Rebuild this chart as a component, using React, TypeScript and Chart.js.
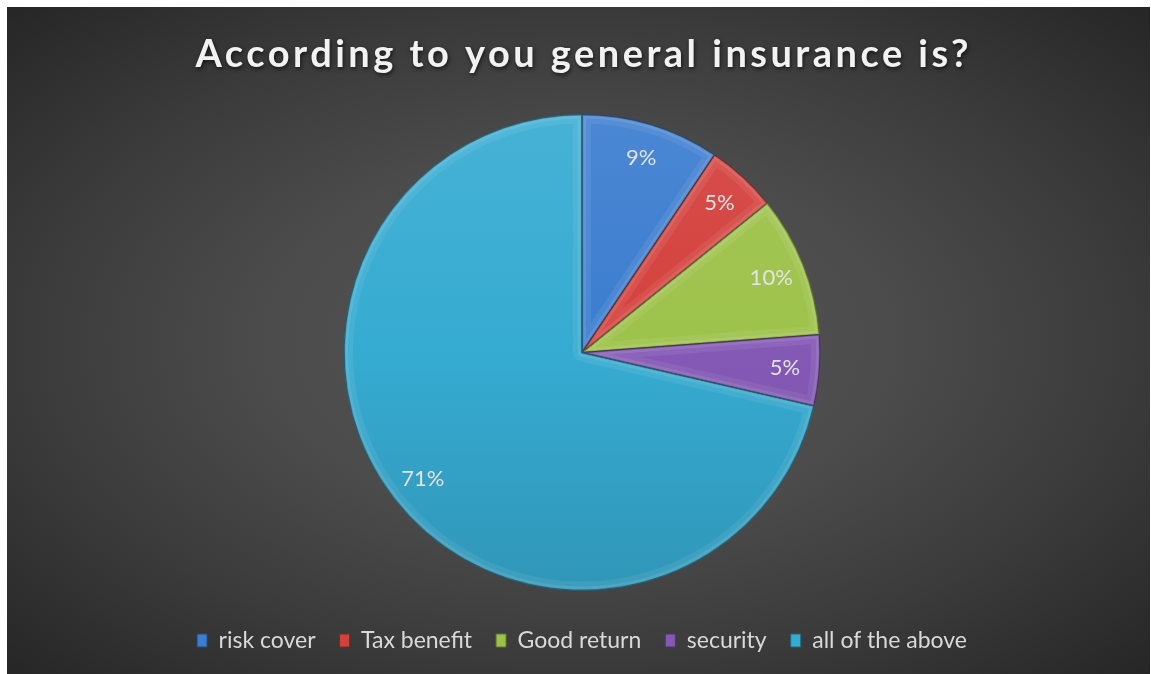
import { useEffect, useRef } from "react";
import { Chart, registerables } from "chart.js";

Chart.register(...registerables);

const TITLE = "According to you general insurance is?";
const categories = ["risk cover", "Tax benefit", "Good return", "security", "all of the above"];
const shares = [9.4, 4.8, 9.6, 4.8, 71.4];
const sliceColors = ["#3b7dcf", "#d4403c", "#9dc24a", "#8459b6", "#36abd1"];

const FONT = "Lato, 'Open Sans', sans-serif";
const TITLE_SIZE = 38;
const TITLE_WIDTH = 773;

function shade(hex: string, f: number): string {
  const n = parseInt(hex.slice(1), 16);
  let r = (n >> 16) & 255, g = (n >> 8) & 255, b = n & 255;
  const t = f < 0 ? 0 : 255;
  const p = Math.abs(f);
  r = Math.round((t - r) * p + r);
  g = Math.round((t - g) * p + g);
  b = Math.round((t - b) * p + b);
  return `rgb(${r},${g},${b})`;
}

const bgPlugin = {
  id: "bgPlugin",
  beforeDraw(chart: any) {
    const { ctx, width, height } = chart;
    ctx.save();
    const cx = width / 2, cy = height / 2;
    ctx.translate(cx, cy);
    ctx.scale(width / height, 1);
    const R = Math.SQRT2 * height / 2;
    const g = ctx.createRadialGradient(0, 0, 0, 0, 0, R);
    g.addColorStop(0, "#575757");
    g.addColorStop(0.4, "#4b4b4b");
    g.addColorStop(0.68, "#3b3b3b");
    g.addColorStop(1, "#262626");
    ctx.fillStyle = g;
    ctx.fillRect(-cx * height / width - 2, -cy - 2, height + 4, height + 4);
    ctx.restore();
  },
  afterDraw(chart: any) {
    const { ctx, chartArea } = chart;
    const cx = (chartArea.left + chartArea.right) / 2;
    ctx.save();
    ctx.font = `bold ${TITLE_SIZE}px ${FONT}`;
    const w0 = ctx.measureText(TITLE).width;
    const sp = Math.max(0, (TITLE_WIDTH - w0) / (TITLE.length - 1));
    (ctx as any).letterSpacing = `${sp}px`;
    ctx.textAlign = "left";
    ctx.textBaseline = "alphabetic";
    ctx.shadowColor = "rgba(0,0,0,0.65)";
    ctx.shadowBlur = 4;
    ctx.shadowOffsetX = 1;
    ctx.shadowOffsetY = 2;
    ctx.fillStyle = "#f2f2f2";
    ctx.fillText(TITLE, cx - TITLE_WIDTH / 2, 60);
    ctx.restore();
  },
};

const bevelPlugin = {
  id: "bevelPlugin",
  afterDatasetsDraw(chart: any) {
    const { ctx } = chart;
    const meta = chart.getDatasetMeta(0);
    const data = chart.data.datasets[0].data as number[];
    const total = data.reduce((a, b) => a + b, 0);
    meta.data.forEach((arc: any, i: number) => {
      const { x, y, startAngle, endAngle, outerRadius } = arc.getProps(
        ["x", "y", "startAngle", "endAngle", "outerRadius"], true
      );
      const path = () => {
        ctx.beginPath();
        ctx.moveTo(x, y);
        ctx.arc(x, y, outerRadius, startAngle, endAngle);
        ctx.closePath();
      };
      ctx.save();
      path();
      ctx.clip();
      path();
      ctx.lineJoin = "round";
      ctx.lineWidth = 18;
      ctx.strokeStyle = "rgba(255,255,255,0.07)";
      ctx.stroke();
      ctx.lineWidth = 8;
      ctx.strokeStyle = "rgba(255,255,255,0.09)";
      ctx.stroke();
      ctx.lineWidth = 2.5;
      ctx.strokeStyle = "rgba(0,0,0,0.2)";
      ctx.stroke();
      ctx.restore();
      ctx.save();
      path();
      ctx.lineWidth = 1;
      ctx.strokeStyle = shade(sliceColors[i], -0.45);
      ctx.stroke();
      ctx.restore();
    });
    meta.data.forEach((arc: any, i: number) => {
      const { x, y, startAngle, endAngle, outerRadius } = arc.getProps(
        ["x", "y", "startAngle", "endAngle", "outerRadius"], true
      );
      const mid = (startAngle + endAngle) / 2;
      const rr = outerRadius * 0.855;
      ctx.save();
      ctx.font = `22px ${FONT}`;
      ctx.fillStyle = "#e3e3e3";
      ctx.textAlign = "center";
      ctx.textBaseline = "middle";
      ctx.fillText(`${Math.round((data[i] / total) * 100)}%`, x + rr * Math.cos(mid), y + rr * Math.sin(mid));
      ctx.restore();
    });
  },
};

export default function App() {
  const ref = useRef<HTMLCanvasElement>(null);
  useEffect(() => {
    if (!ref.current) return;
    const chart = new Chart(ref.current, {
      type: "pie",
      data: {
        labels: categories,
        datasets: [
          {
            data: shares,
            radius: 238,
            borderWidth: 0,
            backgroundColor: (c: any) => {
              const ch = c.chart;
              const i = c.dataIndex ?? 0;
              const base = sliceColors[i];
              const area = ch.chartArea;
              if (!area) return base;
              const cy = (area.top + area.bottom) / 2;
              const g = ch.ctx.createLinearGradient(0, cy - 240, 0, cy + 240);
              g.addColorStop(0, shade(base, 0.08));
              g.addColorStop(0.5, base);
              g.addColorStop(1, shade(base, -0.12));
              return g;
            },
          } as any,
        ],
      },
      options: {
        animation: false,
        responsive: true,
        maintainAspectRatio: false,
        layout: { padding: { top: 93, left: 7, bottom: 12 } },
        plugins: {
          title: { display: false },
          tooltip: { enabled: false },
          legend: {
            position: "bottom",
            labels: {
              color: "#d9d9d9",
              font: { family: FONT, size: 23 },
              boxWidth: 10,
              boxHeight: 13,
              padding: 24,
              generateLabels: () =>
                categories.map((c, i) => ({
                  text: c,
                  fillStyle: sliceColors[i],
                  strokeStyle: shade(sliceColors[i], -0.4),
                  lineWidth: 1,
                  hidden: false,
                  index: i,
                  fontColor: "#d9d9d9",
                })),
            },
          },
        },
      },
      plugins: [bgPlugin, bevelPlugin],
    });
    return () => chart.destroy();
  }, []);
  return (
    <div style={{ position: "absolute", left: 7, top: 7, width: 1143, height: 667 }}>
      <canvas ref={ref} />
    </div>
  );
}
